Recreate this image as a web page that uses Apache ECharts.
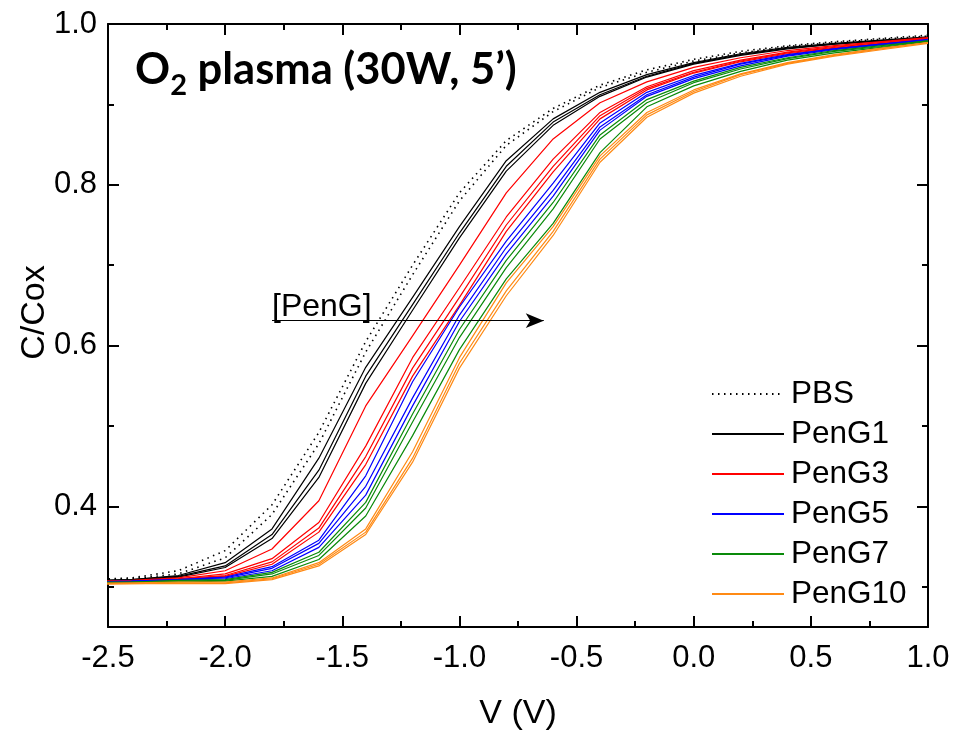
<!DOCTYPE html>
<html>
<head>
<meta charset="utf-8">
<script src="https://cdn.jsdelivr.net/npm/echarts@6/dist/echarts.min.js"></script>
<style>html,body{margin:0;padding:0;background:#fff;}#c{width:955px;height:733px;}</style>
</head>
<body>
<div id="c"></div>
<script>
// ---- data ----
var V = [-2.6,-2.4,-2.2,-2.0,-1.8,-1.6,-1.4,-1.2,-1.0,-0.8,-0.6,-0.4,-0.2,0.0,0.2,0.4,0.6,0.8,1.0];
var PBS_a = [0.309,0.311,0.320,0.345,0.402,0.492,0.605,0.700,0.790,0.855,0.895,0.924,0.943,0.956,0.966,0.973,0.978,0.982,0.986];
var PBS_b = [0.308,0.310,0.316,0.336,0.390,0.478,0.592,0.688,0.780,0.849,0.891,0.921,0.940,0.954,0.964,0.972,0.977,0.981,0.985];
var PenG1_a = [0.308,0.309,0.314,0.330,0.372,0.460,0.573,0.660,0.748,0.830,0.882,0.915,0.937,0.952,0.963,0.971,0.976,0.980,0.984];
var PenG1_b = [0.307,0.309,0.313,0.326,0.365,0.445,0.562,0.651,0.740,0.823,0.878,0.912,0.935,0.951,0.962,0.970,0.975,0.979,0.983];
var PenG1_c = [0.307,0.308,0.312,0.324,0.360,0.436,0.553,0.644,0.734,0.817,0.874,0.910,0.934,0.950,0.961,0.969,0.975,0.979,0.983];
var PenG3_a = [0.307,0.308,0.311,0.320,0.347,0.407,0.525,0.612,0.700,0.790,0.857,0.902,0.928,0.946,0.958,0.967,0.973,0.978,0.983];
var PenG3_b = [0.306,0.307,0.310,0.316,0.335,0.380,0.475,0.585,0.672,0.760,0.832,0.890,0.922,0.942,0.955,0.965,0.972,0.977,0.982];
var PenG3_c = [0.306,0.307,0.310,0.314,0.331,0.373,0.462,0.572,0.660,0.750,0.823,0.886,0.920,0.940,0.954,0.964,0.971,0.977,0.982];
var PenG3_d = [0.306,0.307,0.309,0.313,0.328,0.368,0.452,0.562,0.650,0.742,0.816,0.882,0.918,0.939,0.953,0.963,0.970,0.976,0.981];
var PenG5_a = [0.306,0.307,0.309,0.312,0.325,0.358,0.438,0.555,0.648,0.730,0.802,0.877,0.915,0.936,0.951,0.962,0.969,0.975,0.981];
var PenG5_b = [0.306,0.307,0.309,0.311,0.323,0.354,0.425,0.535,0.638,0.722,0.793,0.872,0.912,0.934,0.950,0.961,0.969,0.975,0.980];
var PenG5_c = [0.305,0.306,0.308,0.310,0.320,0.349,0.414,0.525,0.630,0.714,0.786,0.868,0.910,0.932,0.948,0.960,0.968,0.974,0.980];
var PenG7_a = [0.305,0.306,0.308,0.309,0.318,0.343,0.405,0.515,0.620,0.706,0.778,0.862,0.906,0.929,0.946,0.958,0.967,0.973,0.979];
var PenG7_b = [0.305,0.306,0.307,0.308,0.316,0.339,0.398,0.505,0.610,0.697,0.770,0.857,0.902,0.927,0.944,0.957,0.966,0.972,0.979];
var PenG7_c = [0.304,0.305,0.306,0.307,0.313,0.334,0.388,0.488,0.595,0.683,0.752,0.840,0.897,0.923,0.941,0.955,0.964,0.971,0.978];
var PenG10_a = [0.304,0.305,0.306,0.306,0.311,0.330,0.372,0.468,0.585,0.678,0.748,0.836,0.890,0.918,0.938,0.952,0.962,0.970,0.977];
var PenG10_b = [0.303,0.304,0.305,0.305,0.310,0.328,0.368,0.460,0.578,0.668,0.742,0.832,0.887,0.916,0.937,0.951,0.961,0.969,0.977];
var PenG10_c = [0.303,0.304,0.304,0.304,0.309,0.326,0.365,0.455,0.572,0.662,0.737,0.828,0.884,0.914,0.935,0.950,0.960,0.968,0.976];

var legendNames = ['PBS','PenG1','PenG3','PenG5','PenG7','PenG10'];
var yMajorTicks = [0.4,0.6,0.8,1.0];
var yMinorTicks = [0.3,0.5,0.7,0.9];
var arrowStart = [-1.80, 0.631];
var arrowEnd = [-0.64, 0.631];
var arrowLabel = '[PenG]';

// ---- build ----
var groups = [
  {name:'PBS', color:'#000000', dotted:true, lines:[PBS_a, PBS_b]},
  {name:'PenG1', color:'#000000', lines:[PenG1_a, PenG1_b, PenG1_c]},
  {name:'PenG3', color:'#ff0000', lines:[PenG3_a, PenG3_b, PenG3_c, PenG3_d]},
  {name:'PenG5', color:'#0000ff', lines:[PenG5_a, PenG5_b, PenG5_c]},
  {name:'PenG7', color:'#0a8a0a', lines:[PenG7_a, PenG7_b, PenG7_c]},
  {name:'PenG10', color:'#ff8a14', lines:[PenG10_a, PenG10_b, PenG10_c]}
];
var series = [];
groups.forEach(function(g){
  g.lines.forEach(function(arr){
    series.push({
      type:'line', name:g.name, symbol:'none', showSymbol:false, clip:true,
      data: V.map(function(x,i){return [x, arr[i]];}),
      lineStyle:{color:g.color, width:g.dotted?1.6:1.2, type:g.dotted?[1.5,4.5]:'solid'},
      itemStyle:{color:g.color},
      emphasis:{disabled:true}, silent:true
    });
  });
});
series.push({
  type:'line', data:[], silent:true,
  markLine:{
    silent:true, symbol:['none','arrow'], symbolSize:[11,18],
    lineStyle:{color:'#000', width:1.2, type:'solid'},
    label:{show:true, position:'insideStartTop', formatter:arrowLabel, color:'#000',
      fontFamily:'Liberation Sans', fontSize:32, distance:[0,-2]},
    data:[[{coord:arrowStart},{coord:arrowEnd}]]
  }
});

var font = 'Liberation Sans';
var noZeroLine = {show:false, onZero:false};
var chart = echarts.init(document.getElementById('c'));
chart.setOption({
  animation:false,
  backgroundColor:'#fff',
  title:{
    text:'{a|O}{s|2}{a| plasma (30W, 5\u2019)}',
    left:135, top:40, padding:0,
    textStyle:{rich:{
      a:{fontFamily:'Lato', fontWeight:'bold', fontSize:43.5, color:'#000', lineHeight:60, verticalAlign:'middle'},
      s:{fontFamily:'Lato', fontWeight:'bold', fontSize:29, color:'#000', lineHeight:29, verticalAlign:'bottom'}
    }}
  },
  legend:{
    orient:'vertical', left:711, top:374, padding:0, itemWidth:72, itemHeight:12, itemGap:0,
    data:legendNames, selectedMode:false,
    itemStyle:{opacity:0},
    textStyle:{fontFamily:font, fontSize:31.5, color:'#000', lineHeight:40, padding:[0,0,0,2]}
  },
  grid:{left:108, right:27, top:24, bottom:106, containLabel:false, outerBoundsMode:'none'},
  xAxis:[{
    type:'value', min:-2.5, max:1.0, interval:0.5, position:'bottom',
    name:'V (V)', nameLocation:'middle', nameGap:70, nameMoveOverlap:false,
    nameTextStyle:{fontFamily:font, fontSize:34, color:'#000'},
    axisLine:{show:true, onZero:false, lineStyle:{color:'#000', width:2}},
    axisTick:{show:true, inside:true, length:11, lineStyle:{color:'#000', width:2}},
    minorTick:{show:true, splitNumber:2, length:6, lineStyle:{color:'#000', width:2}},
    axisLabel:{fontFamily:font, fontSize:31, color:'#000', margin:16, formatter:function(v){return v.toFixed(1);}},
    splitLine:{show:false}
  },{
    type:'value', min:-2.5, max:1.0, interval:0.5, position:'top',
    axisLine:{show:true, onZero:false, lineStyle:{color:'#000', width:2}},
    axisTick:{show:true, inside:true, length:11, lineStyle:{color:'#000', width:2}},
    minorTick:{show:true, splitNumber:2, length:6, lineStyle:{color:'#000', width:2}},
    axisLabel:{show:false}, splitLine:{show:false}
  }],
  yAxis:[{
    type:'value', min:0.25, max:1.0, position:'left',
    name:'C/Cox', nameLocation:'middle', nameGap:56, nameRotate:90, nameMoveOverlap:false,
    nameTextStyle:{fontFamily:font, fontSize:34, color:'#000', padding:[0,0,0,26]},
    axisLine:{show:true, onZero:false, lineStyle:{color:'#000', width:2}},
    axisTick:{show:true, inside:true, length:11, customValues:yMajorTicks, lineStyle:{color:'#000', width:2}},
    axisLabel:{fontFamily:font, fontSize:31, color:'#000', margin:11, customValues:yMajorTicks,
      formatter:function(v){return v.toFixed(1);}},
    splitLine:{show:false}
  },{
    type:'value', min:0.25, max:1.0, position:'left',
    axisLine:noZeroLine,
    axisTick:{show:true, inside:true, length:6, customValues:yMinorTicks, lineStyle:{color:'#000', width:2}},
    axisLabel:{show:false}, splitLine:{show:false}
  },{
    type:'value', min:0.25, max:1.0, position:'right',
    axisLine:{show:true, onZero:false, lineStyle:{color:'#000', width:2}},
    axisTick:{show:true, inside:true, length:11, customValues:yMajorTicks, lineStyle:{color:'#000', width:2}},
    axisLabel:{show:false}, splitLine:{show:false}
  },{
    type:'value', min:0.25, max:1.0, position:'right',
    axisLine:noZeroLine,
    axisTick:{show:true, inside:true, length:6, customValues:yMinorTicks, lineStyle:{color:'#000', width:2}},
    axisLabel:{show:false}, splitLine:{show:false}
  }],
  series:series
});
</script>
</body>
</html>
